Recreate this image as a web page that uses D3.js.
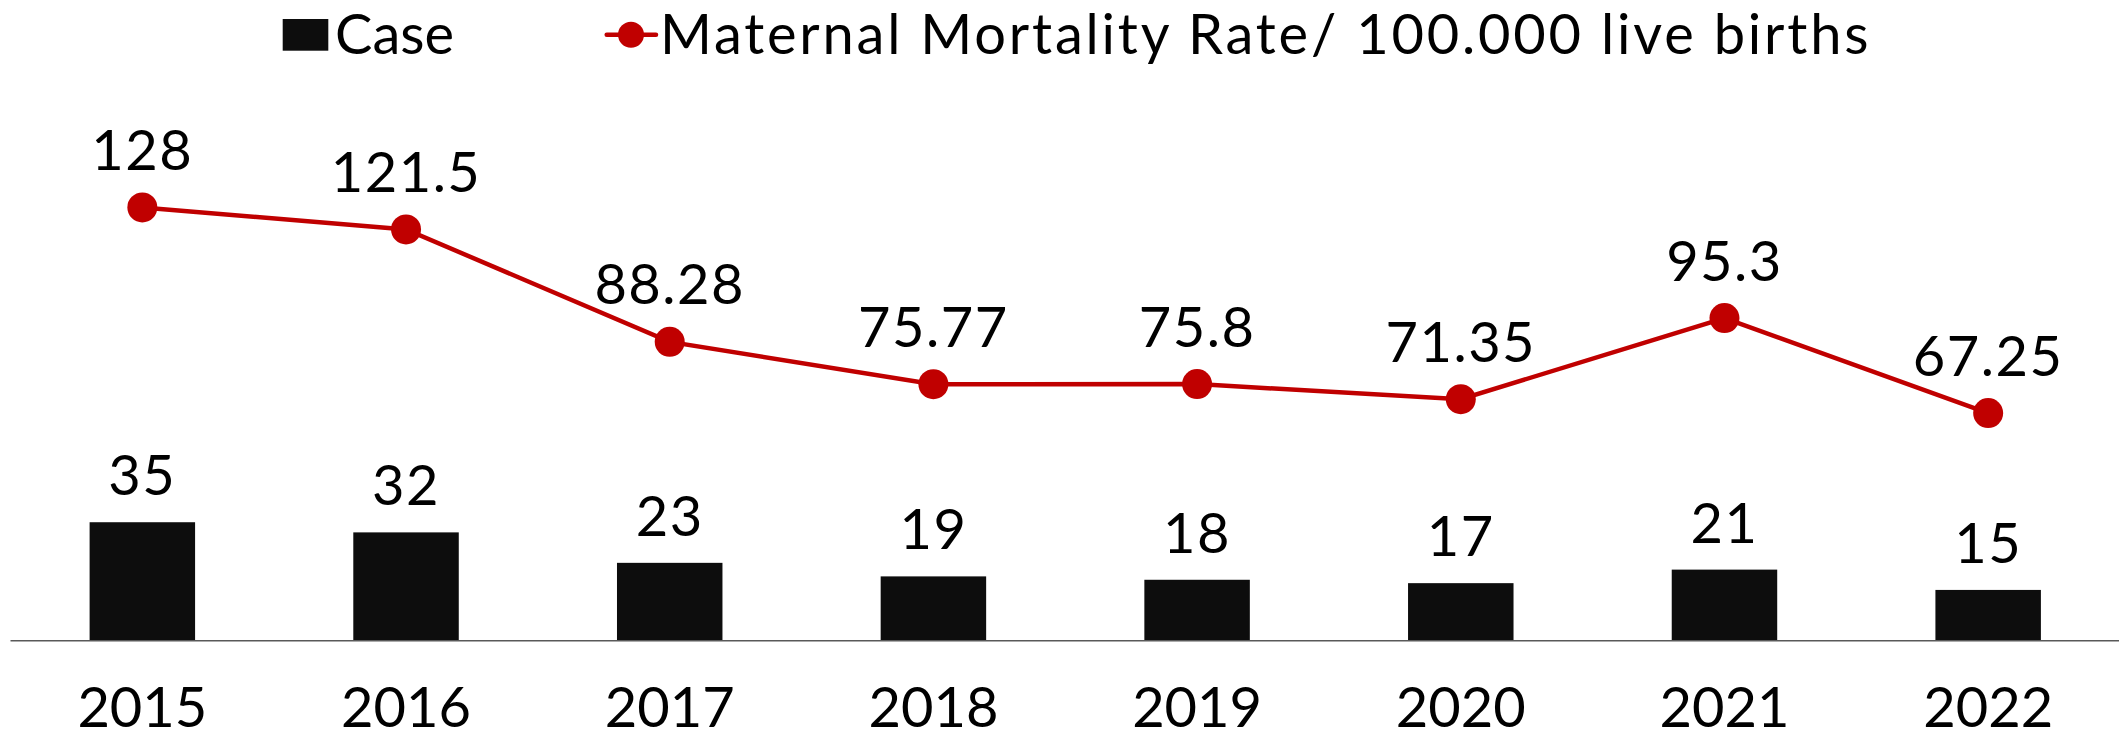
<!DOCTYPE html>
<html>
<head>
<meta charset="utf-8">
<script src="https://cdn.jsdelivr.net/npm/d3@7"></script>
<style>
  body { margin: 0; background: #fff; }
  text { font-family: Lato, "Open Sans", sans-serif; fill: #000; }
</style>
</head>
<body>
<script>
const years = ["2015", "2016", "2017", "2018", "2019", "2020", "2021", "2022"];
const cases = [35, 32, 23, 19, 18, 17, 21, 15];
const mmr = [128, 121.5, 88.28, 75.77, 75.8, 71.35, 95.3, 67.25];
const seriesNames = ["Case", "Maternal Mortality Rate/ 100.000 live births"];

const W = 2119, H = 738;
const barColor = "#0d0d0d", lineColor = "#c00000";
const fs = 56;

const svg = d3.select("body").append("svg")
    .attr("width", W)
    .attr("height", H);

const x = d3.scaleBand()
    .domain(years)
    .range([10.5, 2120])
    .paddingInner(0.6)
    .paddingOuter(0.3);

// bars and line share one value axis
const y = d3.scaleLinear()
    .domain([0, 180])
    .range([640.7, 640.7 - 180 * 3.385]);

const data = years.map((yr, i) => ({ year: yr, c: cases[i], m: mmr[i] }));

// bars
svg.selectAll("rect.bar")
    .data(data)
    .enter()
    .append("rect")
    .attr("class", "bar")
    .attr("x", d => x(d.year))
    .attr("width", x.bandwidth())
    .attr("y", d => y(d.c))
    .attr("height", d => y(0) - y(d.c))
    .attr("fill", barColor);

svg.selectAll("text.barlab")
    .data(data)
    .enter()
    .append("text")
    .attr("class", "barlab")
    .attr("x", d => x(d.year) + x.bandwidth() / 2)
    .attr("y", d => y(d.c) - 27)
    .attr("text-anchor", "middle")
    .attr("font-size", fs)
    .attr("letter-spacing", 1.5)
    .text(d => d.c);

// x axis
const xAxis = svg.append("g")
    .attr("transform", `translate(0,${y(0)})`)
    .call(d3.axisBottom(x).tickSize(0).tickPadding(0));
xAxis.select(".domain")
    .attr("stroke", "#595959")
    .attr("stroke-width", 1.5)
    .attr("d", "M10.5,0H2119");
xAxis.selectAll(".tick text")
    .attr("font-size", fs)
    .attr("fill", "#000")
    .attr("y", 86)
    .attr("dy", 0)
    .style("font-family", "Lato, sans-serif");

// line
const cx = d => x(d.year) + x.bandwidth() / 2;
svg.append("path")
    .datum(data)
    .attr("fill", "none")
    .attr("stroke", lineColor)
    .attr("stroke-width", 4.5)
    .attr("d", d3.line().x(cx).y(d => y(d.m)));

svg.selectAll("circle.dot")
    .data(data)
    .enter()
    .append("circle")
    .attr("class", "dot")
    .attr("cx", cx)
    .attr("cy", d => y(d.m))
    .attr("r", 15)
    .attr("fill", lineColor);

svg.selectAll("text.linelab")
    .data(data)
    .enter()
    .append("text")
    .attr("class", "linelab")
    .attr("x", cx)
    .attr("y", d => y(d.m) - 37.5)
    .attr("text-anchor", "middle")
    .attr("font-size", fs)
    .attr("letter-spacing", 1.5)
    .text(d => d.m);

// legend
const leg = svg.append("g");
leg.append("rect")
    .attr("x", 282.7).attr("y", 19)
    .attr("width", 45.6).attr("height", 31.7)
    .attr("fill", barColor);
leg.append("text")
    .attr("x", 335).attr("y", 54)
    .attr("font-size", fs)
    .text(seriesNames[0]);
leg.append("line")
    .attr("x1", 606.7).attr("x2", 656)
    .attr("y1", 34.7).attr("y2", 34.7)
    .attr("stroke", lineColor)
    .attr("stroke-width", 4.5)
    .attr("stroke-linecap", "round");
leg.append("circle")
    .attr("cx", 631).attr("cy", 34.7).attr("r", 13)
    .attr("fill", lineColor);
leg.append("text")
    .attr("x", 660).attr("y", 54)
    .attr("font-size", fs)
    .attr("letter-spacing", 2.8)
    .text(seriesNames[1]);
</script>
</body>
</html>
